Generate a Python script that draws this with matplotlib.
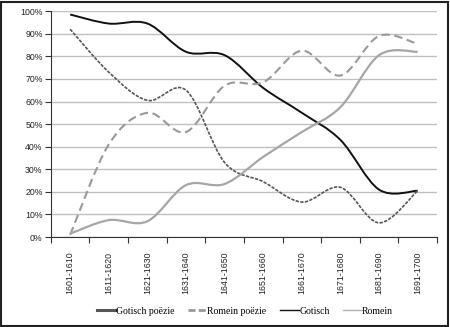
import matplotlib.pyplot as plt
from matplotlib.path import Path
from matplotlib.patches import PathPatch
from matplotlib.lines import Line2D
from matplotlib.ticker import PercentFormatter

periods = ['1601-1610', '1611-1620', '1621-1630', '1631-1640', '1641-1650',
           '1651-1660', '1661-1670', '1671-1680', '1681-1690', '1691-1700']
gotisch = [98.5, 94.5, 94.5, 82, 80.5, 66, 55, 43, 21, 20.5]
gotisch_poezie = [92, 73, 60.5, 65, 33, 24.5, 15.5, 22, 6.3, 20.5]
romein_poezie = [1, 41, 55, 46.5, 67, 68.5, 82.5, 71.5, 89, 85.5]
romein = [1.5, 7.5, 7, 23, 23.5, 35.5, 46.5, 57.5, 80.5, 82]


def smooth_path(xs, ys):
    # excel-style smoothed line: catmull-rom through the data points
    pts = list(zip(xs, ys))
    verts = [pts[0]]
    codes = [Path.MOVETO]
    n = len(pts)
    for i in range(n - 1):
        p0 = pts[i - 1] if i > 0 else pts[i]
        p1 = pts[i]
        p2 = pts[i + 1]
        p3 = pts[i + 2] if i + 2 < n else pts[i + 1]
        c1 = (p1[0] + (p2[0] - p0[0]) / 6, p1[1] + (p2[1] - p0[1]) / 6)
        c2 = (p2[0] - (p3[0] - p1[0]) / 6, p2[1] - (p3[1] - p1[1]) / 6)
        verts += [c1, c2, p2]
        codes += [Path.CURVE4] * 3
    return Path(verts, codes)


fig = plt.figure(figsize=(4.5, 3.27), dpi=100)
ax = fig.add_axes([0.113, 0.275, 0.858, 0.691])

x = list(range(len(periods)))
series = [
    (gotisch, dict(color='#111111', lw=1.4)),
    (gotisch_poezie, dict(color='#555555', lw=1.2, linestyle=(0, (2, 0.8)))),
    (romein_poezie, dict(color='#999999', lw=1.5, linestyle=(0, (4, 2.2)))),
    (romein, dict(color='#a6a6a6', lw=1.6)),
]
for ys, style in series:
    ax.add_patch(PathPatch(smooth_path(x, ys), fill=False, capstyle='butt', **style))

ax.set_xlim(-0.5, len(periods) - 0.5)
ax.set_ylim(0, 100)
ax.set_yticks(range(0, 101, 10))
ax.yaxis.set_major_formatter(PercentFormatter(decimals=0))
ax.set_xticks([i - 0.5 for i in range(len(periods) + 1)])
ax.set_xticklabels([])
ax.set_xticks(x, minor=True)
ax.set_xticklabels(periods, minor=True, rotation=90)
ax.tick_params(axis='x', which='minor', length=0, pad=10.5, labelsize=6.3)
ax.tick_params(axis='x', which='major', length=4, color='#333333')
ax.tick_params(axis='y', length=4, color='#333333', labelsize=6.3, pad=2)
for lab in ax.get_xticklabels(minor=True) + ax.get_yticklabels():
    lab.set_family('Liberation Sans')
    lab.set_color('#222222')

ax.grid(axis='y', color='#c0c0c0', lw=1)
ax.set_axisbelow(True)
ax.spines[['top', 'right']].set_visible(False)
ax.spines[['left', 'bottom']].set_color('#333333')

handles = [
    Line2D([], [], color='#555555', lw=2.2),
    Line2D([], [], color='#999999', lw=2.0, linestyle=(0, (2.5, 1.2))),
    Line2D([], [], color='#111111', lw=1.0),
    Line2D([], [], color='#b0b0b0', lw=1.0),
]
fig.legend(handles, ['Gotisch poëzie', 'Romein poëzie', 'Gotisch', 'Romein'],
           loc='center', bbox_to_anchor=(0.545, 0.048), ncol=4, frameon=False,
           handlelength=1.9, handletextpad=0.05, columnspacing=1.4,
           prop={'family': 'Liberation Serif', 'size': 7})

fig.add_artist(plt.Rectangle((0.003, 0.004), 0.992, 0.991, transform=fig.transFigure,
                             fill=False, edgecolor='#222222', lw=1.5))

fig.savefig('out.png', dpi=100)
